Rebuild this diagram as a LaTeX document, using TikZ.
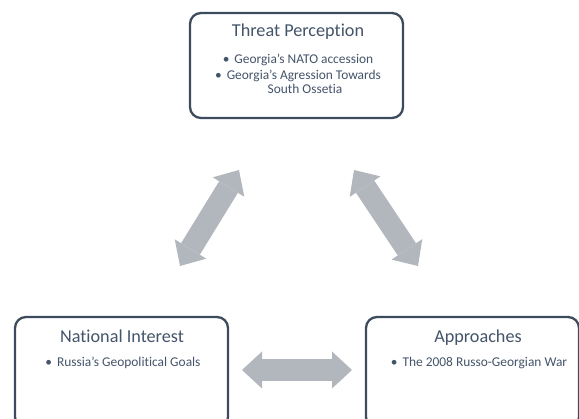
\documentclass[tikz,border=0pt]{standalone}
\usepackage{fontspec}
\setmainfont{Carlito}[Ligatures={TeX,NoCommon}]
\usetikzlibrary{arrows.meta}
\definecolor{frame}{HTML}{3E4B5C}
\definecolor{ink}{HTML}{44546A}
\definecolor{shaft}{HTML}{B2B6BD}
\tikzset{
  panel/.style={draw=frame, line width=2.3pt, rounded corners=11pt, fill=white,
    inner sep=0pt, minimum width=213pt},
  heading/.style={text=ink, inner sep=0pt, anchor=base, font=\fontsize{18.2}{21}\selectfont},
  point/.style={text=ink, inner sep=0pt, anchor=base, font=\fontsize{13.4}{16}\selectfont},
  link/.style={draw=shaft, line width=22pt,
    {Triangle[width=37pt, length=20pt, line width=0pt]}-{Triangle[width=37pt, length=20pt, line width=0pt]}},
}
\newcommand{\bul}{\textbullet\hspace{5pt}}
\begin{document}
\begin{tikzpicture}[x=1pt, y=-1pt]
  \useasboundingbox (0,0) rectangle (579,419);
  \begin{scope}
    \clip (0,0) rectangle (579,419);
    % three panels
    \node[panel, minimum height=105pt] (threat) at (296.5,65.5) {};
    \node[panel, minimum height=111pt] (interest) at (121.5,372.5) {};
    \node[panel, minimum height=111pt] (approach) at (472.5,372.5) {};
  \end{scope}

  % headings
  \node[heading] (threatT) at (298,36.7) {Threat Perception};
  \node[heading] (interestT) at (122,343) {National Interest};
  \node[heading] (approachT) at (478,343) {Approaches};

  % bullet points
  \node[point] (threat1) at (298,63.3) {\bul Georgia's NATO accession};
  \node[point] (threat2) at (298,80) {\bul Georgia's Agression Towards};
  \node[point] (threat3) at (305,94) {South Ossetia};
  \node[point] (interest1) at (123,366.5) {\bul Russia's Geopolitical Goals};
  \node[point] (approach1) at (479,366.5) {\bul The 2008 Russo-Georgian War};

  % two-way block arrows between the panels
  \coordinate (leftLow) at (180,266);
  \coordinate (leftHigh) at (239,170);
  \coordinate (rightHigh) at (354,170);
  \coordinate (rightLow) at (418,266);
  \coordinate (midL) at (242,370);
  \coordinate (midR) at (352,370);
  \draw[link] (leftLow) -- (leftHigh);
  \draw[link] (rightHigh) -- (rightLow);
  \draw[link] (midL) -- (midR);
\end{tikzpicture}
\end{document}
